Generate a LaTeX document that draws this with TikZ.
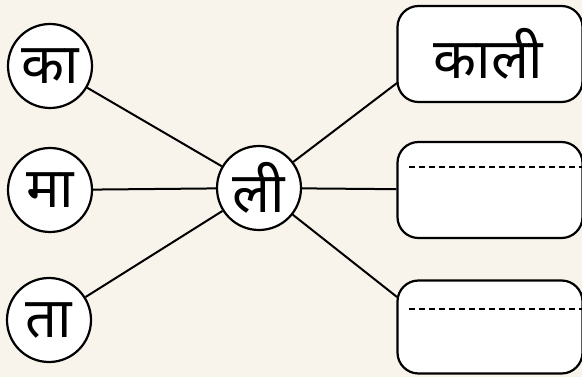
\documentclass[tikz,border=0pt]{standalone}
\usepackage{fontspec}
\newfontfamily\deva[Script=Devanagari]{Noto Sans}
\definecolor{bgcream}{HTML}{F8F4EC}
\begin{document}
\begin{tikzpicture}[x=1pt,y=-1pt,
  letter/.style={circle,draw=black,fill=white,line width=2.2pt,minimum size=84pt,inner sep=0pt,font=\deva\fontsize{56}{56}\selectfont},
  answerbox/.style={rounded corners=21pt,draw=black,fill=white,line width=2.2pt,minimum width=185pt,inner sep=0pt,font=\deva\fontsize{56}{56}\selectfont},
  link/.style={line width=2pt,draw=black},
  dashline/.style={line width=1.6pt,dash pattern=on 6pt off 4pt}]
\useasboundingbox (0,0) rectangle (582,377);
\fill[bgcream] (0,0) rectangle (582,377);
% nodes
\node[letter] (ka) at (50,66) {का};
\node[letter] (ma) at (50,190) {मा};
\node[letter] (ta) at (49,320) {ता};
\node[letter] (li) at (259,188) {ली};
\node[answerbox,minimum height=96pt] (b1) at (490,54) {\hspace*{-3pt}काली};
\node[answerbox,minimum height=96pt] (b2) at (490,190) {};
\node[answerbox,minimum height=93pt] (b3) at (490,327) {};
\coordinate (b1in) at (397,83);
\coordinate (b3in) at (397,297);
% connectors
\draw[link] (ka) -- (li);
\draw[link] (ma) -- (li);
\draw[link] (ta) -- (li);
\draw[link] (li) -- (b1in);
\draw[link] (li) -- (b2);
\draw[link] (li) -- (b3in);
% dashed writing lines
\coordinate (d2a) at (409,167);
\coordinate (d2b) at (582,167);
\coordinate (d3a) at (409,309);
\coordinate (d3b) at (582,309);
\draw[dashline] (d2a) -- (d2b);
\draw[dashline] (d3a) -- (d3b);
\end{tikzpicture}
\end{document}
